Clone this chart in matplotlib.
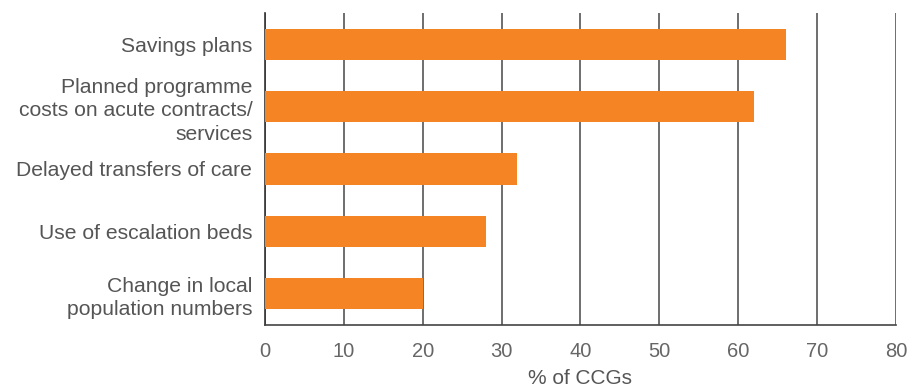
import matplotlib.pyplot as plt

categories = ['Savings plans',
              'Planned programme\ncosts on acute contracts/\nservices',
              'Delayed transfers of care',
              'Use of escalation beds',
              'Change in local\npopulation numbers']
values = [66, 62, 32, 28, 20]
xticks = [0, 10, 20, 30, 40, 50, 60, 70, 80]

plt.rcParams['font.family'] = ['Liberation Sans', 'DejaVu Sans']

fig = plt.figure(figsize=(9.07, 3.91), dpi=100)
ax = fig.add_axes([0.292, 0.169, 0.696, 0.798])

ypos = list(range(len(categories)))
ax.barh(ypos, values, height=0.5, color='#F58424', zorder=3)
ax.set_ylim(len(categories) - 0.5, -0.5)
ax.set_xlim(0, 80)
ax.set_yticks(ypos)
ax.set_yticklabels(categories, fontsize=15.2, color='#555555', linespacing=1.3)
ax.set_xticks(xticks)
ax.set_xticklabels([str(t) for t in xticks], fontsize=14.5, color='#666666')
ax.tick_params(axis='both', length=0)
ax.tick_params(axis='x', pad=12)
ax.tick_params(axis='y', pad=9)

ax.grid(axis='x', color='#555555', linewidth=1.2, zorder=1)
ax.grid(axis='y', visible=False)
for s in ['top', 'right']:
    ax.spines[s].set_visible(False)
ax.spines['left'].set_color('#333333')
ax.spines['bottom'].set_color('#444444')
ax.spines['left'].set_linewidth(1.2)
ax.spines['bottom'].set_linewidth(1.2)

ax.set_xlabel('% of CCGs', fontsize=15, color='#555555', labelpad=6)

fig.savefig('out.png', dpi=100)
